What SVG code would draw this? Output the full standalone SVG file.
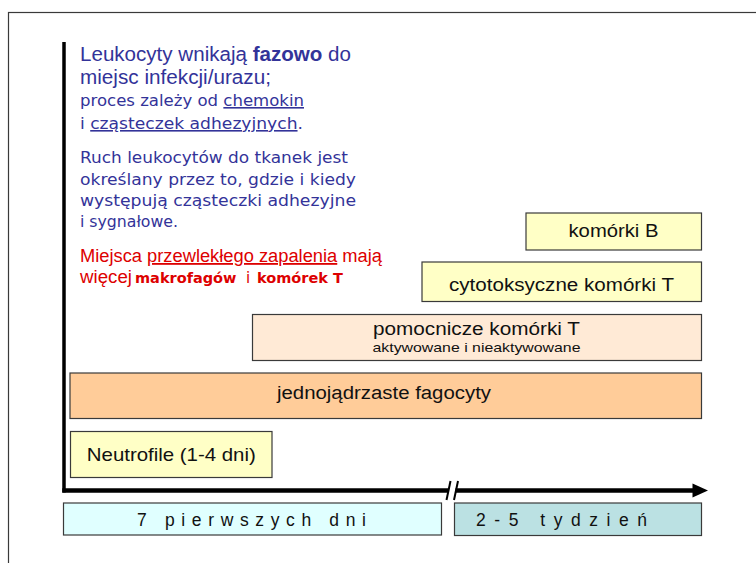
<svg xmlns="http://www.w3.org/2000/svg" width="756" height="563" viewBox="0 0 756 563">
<style>
  .frame{fill:none;stroke:#3a3a3a;stroke-width:1.2}
  .box{stroke:#3a3a3a;stroke-width:1.2}
  .yel{fill:#FFFFC6}
  .peach{fill:#FFEAD6}
  .orange{fill:#FFCC99}
  .cyan{fill:#E0FFFF}
  .teal{fill:#BBE1E3}
  .lbl{font-family:"Liberation Sans",Arial,sans-serif;fill:#111;text-anchor:middle}
  .arial{font-family:"Liberation Sans",Arial,sans-serif}
  .comic{font-family:"Comic Sans MS","DejaVu Sans",sans-serif}
  .blue{fill:#333399}
  .red{fill:#DD0000}
  .u{text-decoration:underline}
  .axis{stroke:#000;fill:none}
</style>
<rect x="8.5" y="12.5" width="800" height="600" class="frame"/>

<g id="notes">
  <text class="arial blue" x="80" y="61" font-size="20" textLength="271" lengthAdjust="spacingAndGlyphs">Leukocyty wnikają <tspan font-weight="bold">fazowo</tspan> do</text>
  <text class="arial blue" x="80" y="84" font-size="20" textLength="191" lengthAdjust="spacingAndGlyphs">miejsc infekcji/urazu;</text>
  <text class="comic blue" x="80" y="106" font-size="16" textLength="224" lengthAdjust="spacingAndGlyphs">proces zależy od <tspan class="u">chemokin</tspan></text>
  <text class="comic blue" x="80" y="129" font-size="16" textLength="223" lengthAdjust="spacingAndGlyphs">i <tspan class="u">cząsteczek adhezyjnych</tspan>.</text>
  <text class="comic blue" x="80" y="163" font-size="16" textLength="268" lengthAdjust="spacingAndGlyphs">Ruch leukocytów do tkanek jest</text>
  <text class="comic blue" x="80" y="185" font-size="16" textLength="276" lengthAdjust="spacingAndGlyphs">określany przez to, gdzie i kiedy</text>
  <text class="comic blue" x="80" y="206" font-size="16" textLength="276" lengthAdjust="spacingAndGlyphs">występują cząsteczki adhezyjne</text>
  <text class="comic blue" x="80" y="227" font-size="16" textLength="98" lengthAdjust="spacingAndGlyphs">i sygnałowe.</text>
  <text class="arial red" x="80" y="262" font-size="18" textLength="302" lengthAdjust="spacingAndGlyphs">Miejsca <tspan class="u">przewlekłego zapalenia</tspan> mają</text>
  <text class="arial red" x="80" y="283" font-size="18" textLength="52" lengthAdjust="spacingAndGlyphs">więcej</text>
  <text class="comic red" x="135" y="283" font-size="14.5" font-weight="bold">makrofagów</text>
  <text class="comic red" x="246" y="283" font-size="15">i</text>
  <text class="comic red" x="257" y="283" font-size="14.5" font-weight="bold">komórek T</text>
</g>

<g id="connectors">
  <line class="axis" x1="64" y1="42" x2="64" y2="492.5" stroke-width="3.5"/>
  <line class="axis" x1="62.3" y1="490.5" x2="448" y2="490.5" stroke-width="4.5"/>
  <line class="axis" x1="455.5" y1="490.5" x2="694" y2="490.5" stroke-width="4.5"/>
  <polygon points="692.5,483.5 708,490.5 692.5,497.5" fill="#000"/>
  <line class="axis" x1="450.5" y1="481" x2="446.5" y2="500" stroke-width="2"/>
  <line class="axis" x1="458" y1="481" x2="454" y2="500" stroke-width="2"/>
</g>

<g id="komorki-b">
  <rect class="box yel" x="526" y="213" width="175.5" height="37"/>
  <text class="lbl" x="613.5" y="237" font-size="18" textLength="90" lengthAdjust="spacingAndGlyphs">komórki B</text>
</g>
<g id="cytotoksyczne">
  <rect class="box yel" x="422" y="262" width="279.5" height="39.5"/>
  <text class="lbl" x="561.5" y="291" font-size="18" textLength="225" lengthAdjust="spacingAndGlyphs">cytotoksyczne komórki T</text>
</g>
<g id="pomocnicze">
  <rect class="box peach" x="252.5" y="314.5" width="449" height="46"/>
  <text class="lbl" x="476.5" y="335" font-size="17.5" textLength="207" lengthAdjust="spacingAndGlyphs">pomocnicze komórki T</text>
  <text class="lbl" x="476.5" y="352" font-size="13.5" textLength="208" lengthAdjust="spacingAndGlyphs">aktywowane i nieaktywowane</text>
</g>
<g id="fagocyty">
  <rect class="box orange" x="70" y="373" width="631.5" height="45.5"/>
  <text class="lbl" x="384" y="399" font-size="18" textLength="214" lengthAdjust="spacingAndGlyphs">jednojądrzaste fagocyty</text>
</g>
<g id="neutrofile">
  <rect class="box yel" x="70.5" y="431.5" width="201.5" height="46"/>
  <text class="lbl" x="171.3" y="461" font-size="18.5" textLength="169" lengthAdjust="spacingAndGlyphs">Neutrofile (1-4 dni)</text>
</g>
<g id="siedem-dni">
  <rect class="box cyan" x="63.5" y="503" width="378" height="32"/>
  <text class="arial" x="137" y="526" font-size="17.5" fill="#111" textLength="229" lengthAdjust="spacing">7 pierwszych dni</text>
</g>
<g id="tygodnie">
  <rect class="box teal" x="454.5" y="503" width="247" height="32.5"/>
  <text class="arial" x="476" y="526" font-size="17.5" fill="#111" textLength="171" lengthAdjust="spacing">2-5 tydzień</text>
</g>
</svg>
